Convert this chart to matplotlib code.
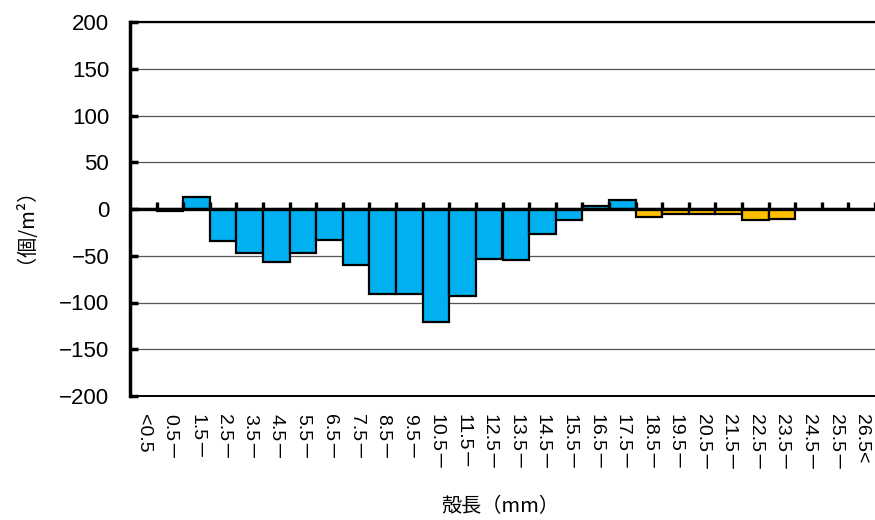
import numpy as np
import matplotlib
matplotlib.use('Agg')
from matplotlib import pyplot as plt

# data
categories = ['<0.5'] + ['%.1f－' % (k + 0.5) for k in range(26)] + ['26.5<']
values = [0, -2, 13, -34, -47, -57, -47, -33, -60, -91, -91, -121, -93, -53,
          -55, -27, -12, 3, 10, -9, -5, -5, -5, -12, -11, 0, 0, 0]
groups = ['blue'] * 19 + ['orange'] * 6 + ['blue'] * 3
palette = {'blue': '#00B0F0', 'orange': '#FFC000'}

y_ticks = [200, 150, 100, 50, 0, -50, -100, -150, -200]

plt.rcParams['font.family'] = ['Liberation Sans', 'Noto Sans CJK JP']

fig = plt.figure(figsize=(8.75, 5.2), dpi=100)
ax = fig.add_axes([130 / 875, 1 - 396 / 520, 745 / 875, 374 / 520])

x = np.arange(len(categories))
ax.bar(x, values, width=1.0, color=[palette[g] for g in groups],
       edgecolor='black', linewidth=1.6, zorder=3)

# zero line + boundary ticks
ax.axhline(0, color='black', lw=2.4, zorder=4)
bounds = np.arange(len(categories) + 1) - 0.5
ax.vlines(bounds[1:], 0, 7, color='black', lw=2.4, zorder=4)

ax.set_xlim(-0.5, len(categories) - 0.5)
ax.set_ylim(-200, 200)
ax.set_yticks(y_ticks)
ax.yaxis.grid(True, color='#555555', lw=0.9, zorder=0)

ax.set_xticks(x)
ax.set_xticklabels(categories, rotation=270, fontsize=14,
                   family=['Liberation Sans', 'Noto Sans CJK JP'],
                   va='top', ha='center')
ax.tick_params(axis='x', length=0, pad=13)
ax.tick_params(axis='y', direction='in', length=6, width=2.5, labelsize=16, pad=15)

ax.spines['right'].set_visible(False)
ax.spines['left'].set_linewidth(2.5)
ax.spines['top'].set_linewidth(1.6)
ax.spines['bottom'].set_linewidth(1.4)

fig.text(15 / 875, 1 - 215 / 520, '（個/m²）', rotation=90, fontsize=14.5,
         family=['Noto Sans CJK JP'], ha='center', va='center')
fig.text(500 / 875, 1 - 507 / 520, '殻長（mm）', fontsize=14.5,
         family=['Noto Sans CJK JP'], ha='center', va='center')

plt.savefig('out.png', dpi=100)
